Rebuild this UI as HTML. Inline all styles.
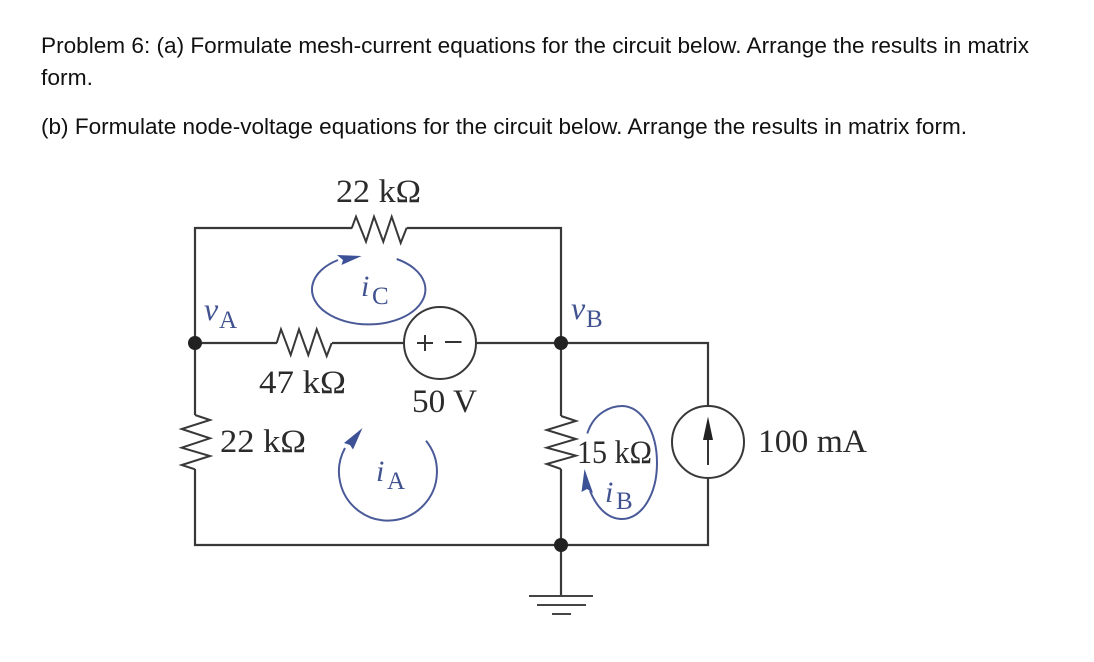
<!DOCTYPE html>
<html>
<head>
<meta charset="utf-8">
<style>
html,body{margin:0;padding:0;background:#fff;width:1094px;height:662px;overflow:hidden}
svg{display:block}
.h{font-family:"Liberation Sans",sans-serif;font-size:22.5px;fill:#111}
.s{font-family:"Liberation Serif",serif;font-size:33px;fill:#2b2b2b}
.b{font-family:"Liberation Serif",serif;fill:#40528f}
.v{font-size:32px;font-style:italic}
.i{font-size:30px;font-style:italic}
.u{font-size:25px}
.w{fill:none;stroke:#383838;stroke-width:2.2}
.z{fill:none;stroke:#383838;stroke-width:2;stroke-linejoin:miter}
.l{fill:none;stroke:#4a5a98;stroke-width:2}
</style>
</head>
<body>
<svg width="1094" height="662" viewBox="0 0 1094 662" xmlns="http://www.w3.org/2000/svg">
<rect width="1094" height="662" fill="#fff"/>
<text class="h" x="41" y="53" textLength="988" lengthAdjust="spacingAndGlyphs">Problem 6: (a) Formulate mesh-current equations for the circuit below. Arrange the results in matrix</text>
<text class="h" x="41" y="85" textLength="52" lengthAdjust="spacingAndGlyphs">form.</text>
<text class="h" x="41" y="134" textLength="926" lengthAdjust="spacingAndGlyphs">(b) Formulate node-voltage equations for the circuit below. Arrange the results in matrix form.</text>

<!-- wires -->
<path class="w" d="M352 228H195V415M407 228H561V416M195 343H277M332 343H404M476 343H708V405.5M708 478V545H195V469M561 469V596"/>
<!-- resistors -->
<polyline class="z" points="351.7,228.3 356,216.7 366,241.7 374,216.7 383.3,241.7 391.7,216.7 400.7,243 406.7,227.7"/>
<polyline class="z" points="276.7,343 281,329.3 290.7,355 299,329.3 308.3,355 316.7,329.3 326.7,356 331.7,343"/>
<polyline class="z" points="195,415 210,420 181.7,429 210,438.3 181.7,447.7 210,456 181.7,465 195,469.3"/>
<polyline class="z" points="561,416 576,421 546.7,430 576,439 546.7,447.7 576,455.7 546.7,464 561,469"/>
<!-- sources -->
<circle cx="440" cy="343" r="36" fill="#fff" stroke="#383838" stroke-width="2"/>
<path d="M417 343H433M425 335V351M445 342H461.5" fill="none" stroke="#333" stroke-width="2"/>
<circle cx="708" cy="442" r="36" fill="#fff" stroke="#383838" stroke-width="2"/>
<path d="M708 440V465" stroke="#333" stroke-width="2" fill="none"/>
<polygon points="708,416.5 703,440 713,440" fill="#222"/>
<!-- nodes -->
<circle cx="195" cy="343" r="7" fill="#222"/>
<circle cx="561" cy="343" r="7" fill="#222"/>
<circle cx="561" cy="545" r="7" fill="#222"/>
<!-- ground -->
<path d="M529 596H593M537 605H586M552 614H571" stroke="#444" stroke-width="2" fill="none"/>

<!-- mesh loops -->
<path class="l" d="M396.7 259A56.7 35 0 1 1 338 260"/>
<polygon points="361.7,256 337,255 343,260 341.5,265" fill="#3d5196"/>
<path class="l" d="M426 440.7A49 49 0 1 1 345 448"/>
<polygon points="362.5,428 344,443 350,445 353,449.5" fill="#3d5196"/>
<path class="l" d="M587.3 433.5C594 412 612 406 622 406C642 406 657 432 657 463C657 494 642 519 622 519C608 519 597 508 590 491"/>
<polygon points="584.5,469 581.5,492 587,489 593,493" fill="#3d5196"/>

<!-- labels -->
<text class="s" x="336" y="202" textLength="85" lengthAdjust="spacingAndGlyphs">22 kΩ</text>
<text class="s" x="259" y="393" textLength="87" lengthAdjust="spacingAndGlyphs">47 kΩ</text>
<text class="s" x="412" y="412" textLength="65" lengthAdjust="spacingAndGlyphs">50 V</text>
<text class="s" x="220" y="452" textLength="86" lengthAdjust="spacingAndGlyphs">22 kΩ</text>
<text class="s" x="577" y="463" textLength="75" lengthAdjust="spacingAndGlyphs">15 kΩ</text>
<text class="s" x="758" y="452" textLength="109" lengthAdjust="spacingAndGlyphs">100 mA</text>

<text class="b v" x="204" y="320">v</text><text class="b u" x="219" y="328">A</text>
<text class="b i" x="361" y="296">i</text><text class="b u" x="372" y="304">C</text>
<text class="b i" x="376" y="481">i</text><text class="b u" x="387" y="489">A</text>
<text class="b v" x="571" y="319">v</text><text class="b u" x="586" y="327">B</text>
<text class="b i" x="605" y="502">i</text><text class="b u" x="616" y="509">B</text>
</svg>
</body>
</html>
